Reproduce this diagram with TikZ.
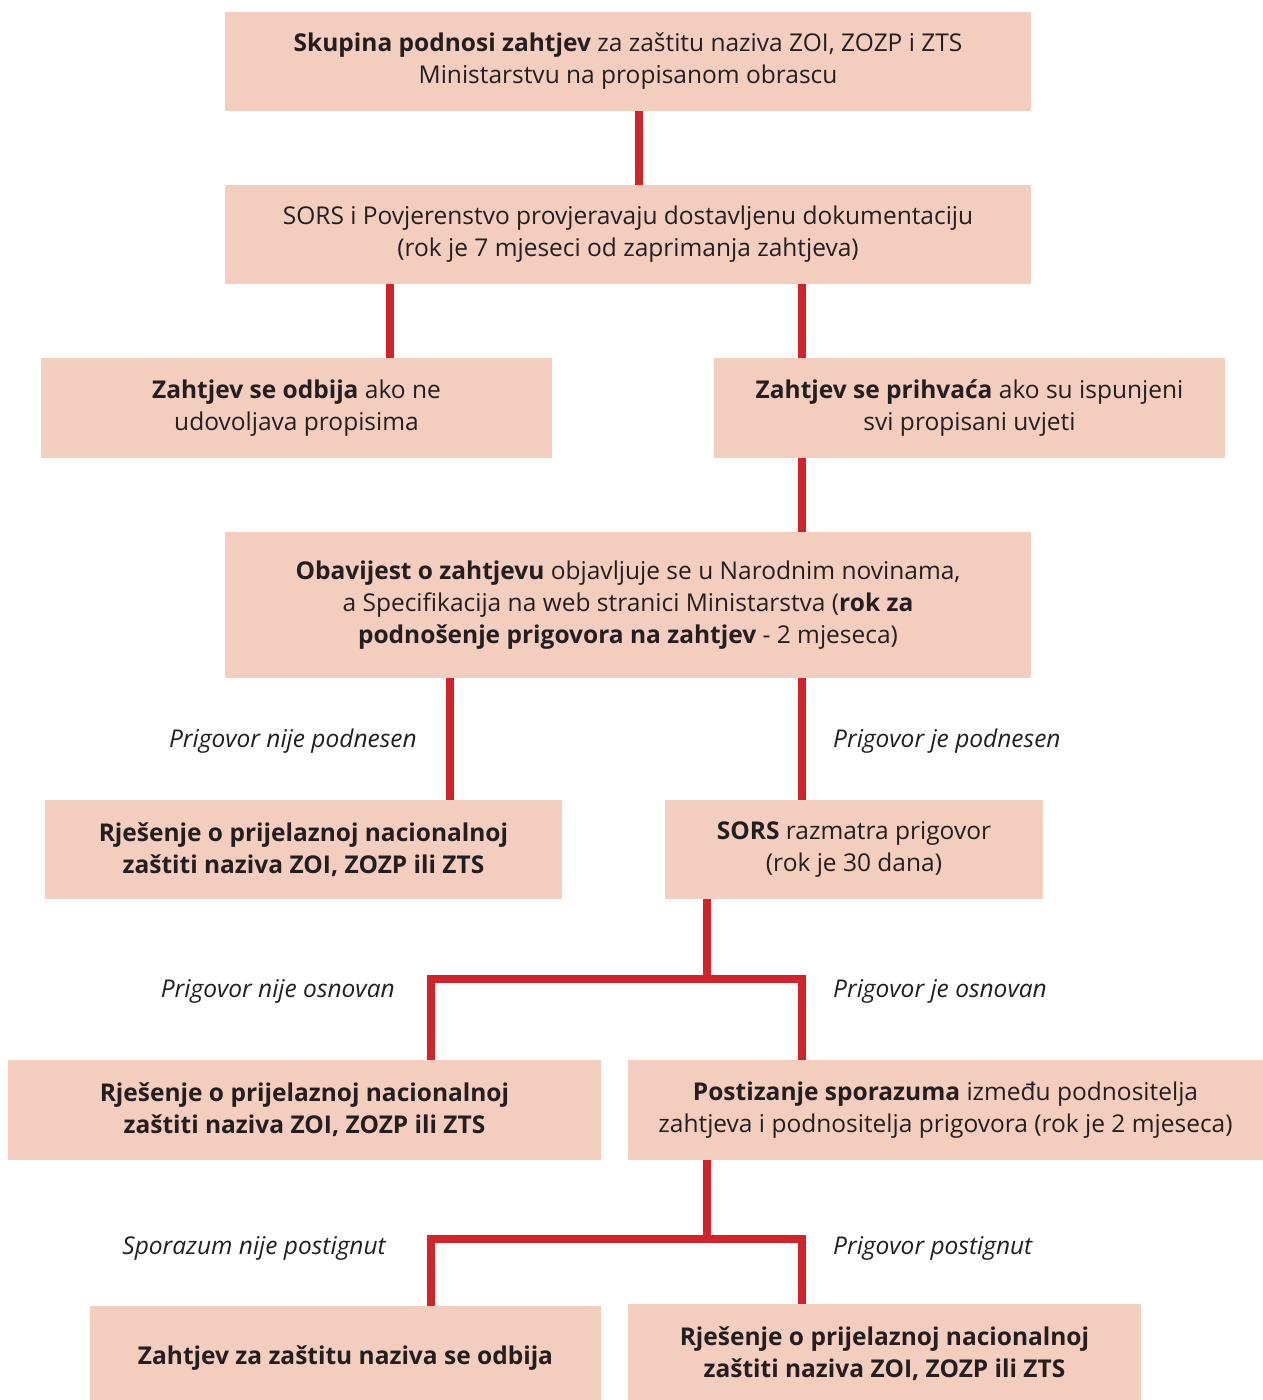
\documentclass[tikz,border=0pt]{standalone}
\usepackage{fontspec}
\setmainfont{Open Sans}
\definecolor{boxfill}{HTML}{F3CDBE}
\definecolor{linered}{HTML}{D3232A}
\definecolor{txt}{HTML}{231F20}
\begin{document}
\begin{tikzpicture}[x=1pt,y=-1pt,
 box/.style={fill=boxfill, draw=none, inner sep=0pt, align=center, text=txt, font=\fontsize{24.5}{32}\selectfont},
 conn/.style={draw=linered, line width=8.5pt, line join=miter},
 lbl/.style={font=\fontsize{24.5}{32}\selectfont\itshape, text=txt, inner sep=0pt}]
\useasboundingbox (0,0) rectangle (1263,1400);

\node[box, minimum width=806pt, minimum height=99pt] (b1) at (628,61.5)
 {\textbf{Skupina podnosi zahtjev} za zaštitu naziva ZOI, ZOZP i ZTS\\ Ministarstvu na propisanom obrascu};
\node[box, minimum width=806pt, minimum height=99pt] (b2) at (628,234.5)
 {SORS i Povjerenstvo provjeravaju dostavljenu dokumentaciju\\ (rok je 7 mjeseci od zaprimanja zahtjeva)};
\node[box, minimum width=511pt, minimum height=100pt] (b3L) at (296.5,408)
 {\textbf{Zahtjev se odbija} ako ne\\ udovoljava propisima};
\node[box, minimum width=511pt, minimum height=100pt] (b3R) at (969.5,408)
 {\textbf{Zahtjev se prihvaća} ako su ispunjeni\\ svi propisani uvjeti};
\node[box, minimum width=806pt, minimum height=146pt] (b4) at (628,605)
 {\textbf{Obavijest o zahtjevu} objavljuje se u Narodnim novinama,\\ a Specifikacija na web stranici Ministarstva (\textbf{rok za}\\ \textbf{podnošenje prigovora na zahtjev} - 2 mjeseca)};
\node[box, minimum width=517pt, minimum height=99pt] (b5L) at (303.5,849.5)
 {\textbf{Rješenje o prijelaznoj nacionalnoj}\\ \textbf{zaštiti naziva ZOI, ZOZP ili ZTS}};
\node[box, minimum width=378pt, minimum height=99pt] (b5R) at (854,849.5)
 {\textbf{SORS} razmatra prigovor\\ (rok je 30 dana)};
\node[box, minimum width=593pt, minimum height=100pt] (b6L) at (304.5,1110)
 {\textbf{Rješenje o prijelaznoj nacionalnoj}\\ \textbf{zaštiti naziva ZOI, ZOZP ili ZTS}};
\node[box, minimum width=635pt, minimum height=100pt] (b6R) at (945.5,1110)
 {\textbf{Postizanje sporazuma} između podnositelja\\ zahtjeva i podnositelja prigovora (rok je 2 mjeseca)};
\node[box, minimum width=511pt, minimum height=104pt] (b7L) at (345.5,1358)
 {\textbf{Zahtjev za zaštitu naziva se odbija}};
\node[box, minimum width=513pt, minimum height=100pt] (b7R) at (884.5,1354)
 {\textbf{Rješenje o prijelaznoj nacionalnoj}\\ \textbf{zaštiti naziva ZOI, ZOZP ili ZTS}};

\node[lbl, anchor=east] (l1) at (417,741) {Prigovor nije podnesen};
\node[lbl, anchor=west] (l2) at (833,741) {Prigovor je podnesen};
\node[lbl, anchor=east] (l3) at (395,991) {Prigovor nije osnovan};
\node[lbl, anchor=west] (l4) at (833,991) {Prigovor je osnovan};
\node[lbl, anchor=east] (l5) at (386,1248) {Sporazum nije postignut};
\node[lbl, anchor=west] (l6) at (833,1248) {Prigovor postignut};

\coordinate (x639) at (639,0);
\coordinate (x390) at (390,0);
\coordinate (x802) at (802,0);
\coordinate (x450) at (450,0);
\coordinate (x431) at (431,0);
\coordinate (j1) at (707,979);
\coordinate (j2) at (707,1239);

\draw[conn] (b1.south -| x639) -- (b2.north -| x639);
\draw[conn] (b2.south -| x390) -- (b3L.north -| x390);
\draw[conn] (b2.south -| x802) -- (b3R.north -| x802);
\draw[conn] (b3R.south -| x802) -- (b4.north -| x802);
\draw[conn] (b4.south -| x450) -- (b5L.north -| x450);
\draw[conn] (b4.south -| x802) -- (b5R.north -| x802);
\draw[conn] (b5R.south -| j1) -- ([yshift=4pt]j1);
\draw[conn] (b6L.north -| x431) |- (j1) -| (b6R.north -| x802);
\draw[conn] (b6R.south -| j2) -- ([yshift=4pt]j2);
\draw[conn] (b7L.north -| x431) |- (j2) -| (b7R.north -| x802);
\end{tikzpicture}
\end{document}
